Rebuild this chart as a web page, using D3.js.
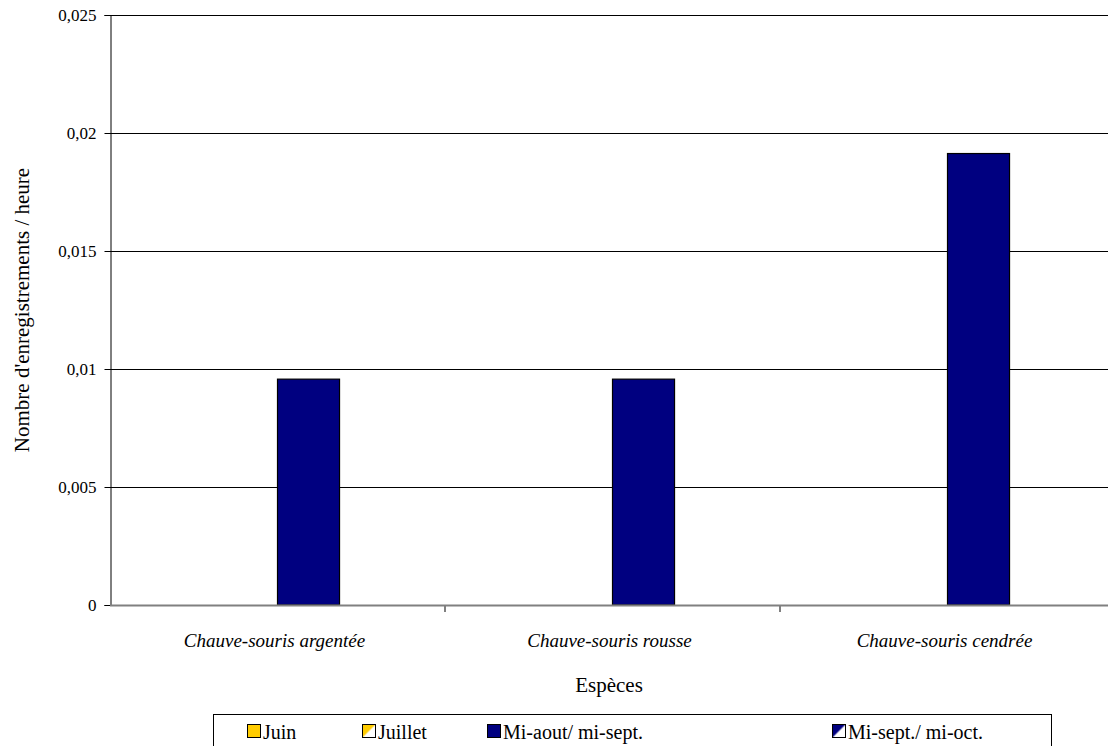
<!DOCTYPE html>
<html>
<head>
<meta charset="utf-8">
<script src="https://cdn.jsdelivr.net/npm/d3@7"></script>
<style>
  body { margin: 0; font-family: "Liberation Serif", "Tinos", "Times New Roman", serif; }
  text { font-family: "Liberation Serif", "Tinos", "Times New Roman", serif !important; }
</style>
</head>
<body>
<svg id="bat-activity" width="1108" height="746"></svg>
<script>
// Species along the x axis
const categories = ["Chauve-souris argentée", "Chauve-souris rousse", "Chauve-souris cendrée"];
// Sampling periods (series)
const seriesNames = ["Juin", "Juillet", "Mi-aout/ mi-sept.", "Mi-sept./ mi-oct."];
// Recordings per hour, one array per period
const juin = [0, 0, 0];
const juillet = [0, 0, 0];
const miAout = [0.00957, 0.00957, 0.01913];
const miSept = [0, 0, 0];
const seriesValues = [juin, juillet, miAout, miSept];
const yTicks = [0, 0.005, 0.01, 0.015, 0.02, 0.025];
const yTickLabels = ["0", "0,005", "0,01", "0,015", "0,02", "0,025"];

const SERIF = "Liberation Serif";
const svg = d3.select("#bat-activity");
const defs = svg.append("defs");

function halfPattern(id, color) {
  const p = defs.append("pattern").attr("id", id)
    .attr("patternUnits", "objectBoundingBox").attr("width", 1).attr("height", 1)
    .attr("patternContentUnits", "objectBoundingBox");
  p.append("rect").attr("width", 1).attr("height", 1).attr("fill", "#fff");
  p.append("path").attr("d", "M0,1 L0,0 L1,0 Z").attr("fill", color);
}
halfPattern("juilletFill", "#FFCC00");
halfPattern("miSeptFill", "#000080");

const fills = ["#FFCC00", "url(#juilletFill)", "#000080", "url(#miSeptFill)"];

const plotLeft = 110, plotTop = 15, plotBottom = 605, plotRight = 1115;

const x0 = d3.scaleBand().domain(categories).range([plotLeft, plotRight]).paddingInner(0).paddingOuter(0);
const x1 = d3.scaleBand().domain(d3.range(seriesNames.length))
  .range([0, x0.bandwidth()]).paddingInner(0).paddingOuter(0.70);
const y = d3.scaleLinear().domain([0, 0.025]).range([plotBottom, plotTop]);

// Gridlines
svg.append("g").selectAll("line").data(yTicks.filter(d => d > 0)).join("line")
  .attr("x1", plotLeft).attr("x2", 1108)
  .attr("y1", d => Math.round(y(d)) + 0.5).attr("y2", d => Math.round(y(d)) + 0.5)
  .attr("stroke", "#000").attr("stroke-width", 1);

// Bars
const groups = svg.append("g").selectAll("g").data(categories).join("g")
  .attr("transform", c => `translate(${x0(c)},0)`);
groups.selectAll("rect")
  .data((c, ci) => seriesValues.map((vals, si) => ({ si, v: vals[ci] })).filter(d => d.v > 0))
  .join("rect")
  .attr("x", d => x1(d.si))
  .attr("width", x1.bandwidth())
  .attr("y", d => y(d.v))
  .attr("height", d => y(0) - y(d.v))
  .attr("fill", d => fills[d.si])
  .attr("stroke", "#000").attr("stroke-width", 1.2);

// Y axis
const yAxis = d3.axisLeft(y).tickValues(yTicks)
  .tickFormat((d, i) => yTickLabels[i]).tickSize(6).tickPadding(8);
const yg = svg.append("g").attr("transform", `translate(${plotLeft + 0.5},0)`).call(yAxis)
  .attr("font-family", SERIF).attr("font-size", 17);
yg.select(".domain").attr("stroke", "#000");
yg.selectAll(".tick line").attr("stroke", "#000");
yg.selectAll("text").attr("font-family", SERIF).attr("font-size", 17);

// X axis line with category separators
svg.append("line").attr("x1", plotLeft).attr("x2", 1108)
  .attr("y1", plotBottom + 0.5).attr("y2", plotBottom + 0.5)
  .attr("stroke", "#808080").attr("stroke-width", 2);
svg.append("g").selectAll("line").data(categories.slice(1)).join("line")
  .attr("x1", c => x0(c)).attr("x2", c => x0(c))
  .attr("y1", plotBottom).attr("y2", plotBottom + 7)
  .attr("stroke", "#808080").attr("stroke-width", 2);

// Category labels
svg.append("g").selectAll("text").data(categories).join("text")
  .attr("x", c => x0(c) + x0.bandwidth() / 2 - 3)
  .attr("y", 647)
  .attr("text-anchor", "middle")
  .attr("font-family", SERIF)
  .attr("font-size", 19).attr("font-style", "italic")
  .text(c => c);

// Axis titles
svg.append("text").attr("x", 609).attr("y", 692).attr("text-anchor", "middle")
  .attr("font-family", SERIF).attr("font-size", 21).text("Espèces");
svg.append("text").attr("transform", "translate(29,310) rotate(-90)")
  .attr("text-anchor", "middle").attr("font-family", SERIF).attr("font-size", 21)
  .text("Nombre d'enregistrements / heure");

// Legend
svg.append("rect").attr("x", 213.5).attr("y", 714.5).attr("width", 838).attr("height", 40)
  .attr("fill", "#fff").attr("stroke", "#000").attr("stroke-width", 1);
const legendX = [247, 362, 487, 832];
const lg = svg.append("g").selectAll("g").data(seriesNames).join("g")
  .attr("transform", (d, i) => `translate(${legendX[i]},0)`);
lg.append("rect").attr("x", 0.5).attr("y", 724.5).attr("width", 13).attr("height", 13)
  .attr("fill", (d, i) => fills[i]).attr("stroke", "#000").attr("stroke-width", 1);
lg.append("text").attr("x", 16).attr("y", 739)
  .attr("font-family", SERIF).attr("font-size", 20).text(d => d);

svg.selectAll("text").attr("fill", "#000");
</script>
</body>
</html>
